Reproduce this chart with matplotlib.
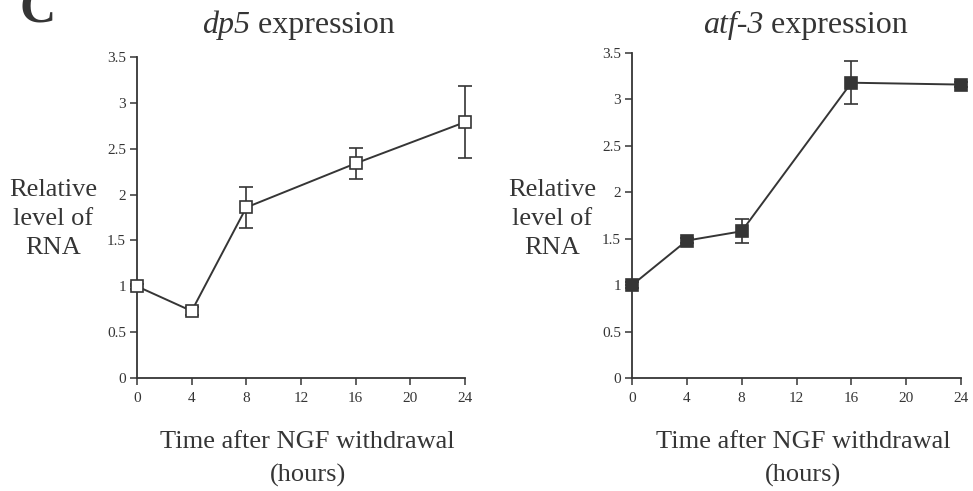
import numpy as np
import matplotlib
matplotlib.use('Agg')
import matplotlib.pyplot as plt
import matplotlib.ticker as mticker

# ---- Data ----
hours = [0, 4, 8, 16, 24]

dp5_level = [1.0, 0.73, 1.86, 2.34, 2.79]
dp5_err = [0.03, 0.04, 0.22, 0.17, 0.39]

atf3_level = [1.0, 1.48, 1.58, 3.18, 3.16]
atf3_err = [0.03, 0.03, 0.13, 0.23, 0.03]

x_ticks = [0, 4, 8, 12, 16, 20, 24]
y_ticks = [0, 0.5, 1, 1.5, 2, 2.5, 3, 3.5]

# ---- Style ----
plt.rcParams.update({'font.family': 'Liberation Serif'})
ink = '#353535'

fig = plt.figure(figsize=(9.73, 4.91), dpi=100)


def panel(rect, y, err, filled, gene, split_x, ylab_x):
    ax = fig.add_axes(rect)
    ax.errorbar(hours, y, yerr=err, fmt='s-', color=ink, lw=1.4,
                markersize=8, markerfacecolor=ink if filled else 'white',
                markeredgecolor=ink, markeredgewidth=1.2,
                ecolor=ink, elinewidth=1.2, capsize=5, capthick=1.2,
                clip_on=False, zorder=3)
    ax.set_xlim(0, 24)
    ax.set_ylim(0, 3.5)
    ax.set_xticks(x_ticks)
    ax.set_yticks(y_ticks)
    ax.yaxis.set_major_formatter(mticker.FuncFormatter(lambda v, _: f'{v:g}'))
    for s in ['top', 'right']:
        ax.spines[s].set_visible(False)
    for s in ['left', 'bottom']:
        ax.spines[s].set_color(ink)
        ax.spines[s].set_linewidth(1.3)
    ax.tick_params(axis='y', direction='out', length=5, width=1.1,
                   color=ink, labelcolor=ink, labelsize=11, pad=3)
    ax.tick_params(axis='x', direction='out', length=5, width=1.1,
                   color=ink, labelcolor=ink, labelsize=11, pad=5)
    ax.patch.set_alpha(0)

    # title: italic gene name + regular word
    ty = 1 - 25 / 491
    fig.text(split_x, ty, gene, ha='right', va='center', fontsize=23,
             fontstyle='italic', color=ink)
    fig.text(split_x, ty, ' expression', ha='left', va='center',
             fontsize=23, color=ink)

    for k, line in enumerate(['Relative', 'level of', 'RNA']):
        fig.text(ylab_x, 1 - (190 + 29 * k) / 491, line, ha='center',
                 va='center', fontsize=19, color=ink)
    cx = rect[0] + rect[2] * 0.52
    fig.text(cx, 1 - 442 / 491, 'Time after NGF withdrawal', ha='center',
             va='center', fontsize=19, color=ink)
    fig.text(cx, 1 - 475 / 491, '(hours)', ha='center', va='center',
             fontsize=19, color=ink)
    return ax


panel([137 / 973, 1 - 378 / 491, 328 / 973, 321 / 491], dp5_level, dp5_err,
      False, 'dp5', 250 / 973, 53 / 973)
panel([632 / 973, 1 - 378 / 491, 329 / 973, 325 / 491], atf3_level, atf3_err,
      True, 'atf-3', 763 / 973, 552 / 973)

# panel letter (cut off at the top in the scan)
fig.text(20 / 973, 1 - 22 / 491, 'C', ha='left', va='baseline',
         fontsize=36, fontweight='bold', color=ink)

fig.savefig('out.png', dpi=100)
